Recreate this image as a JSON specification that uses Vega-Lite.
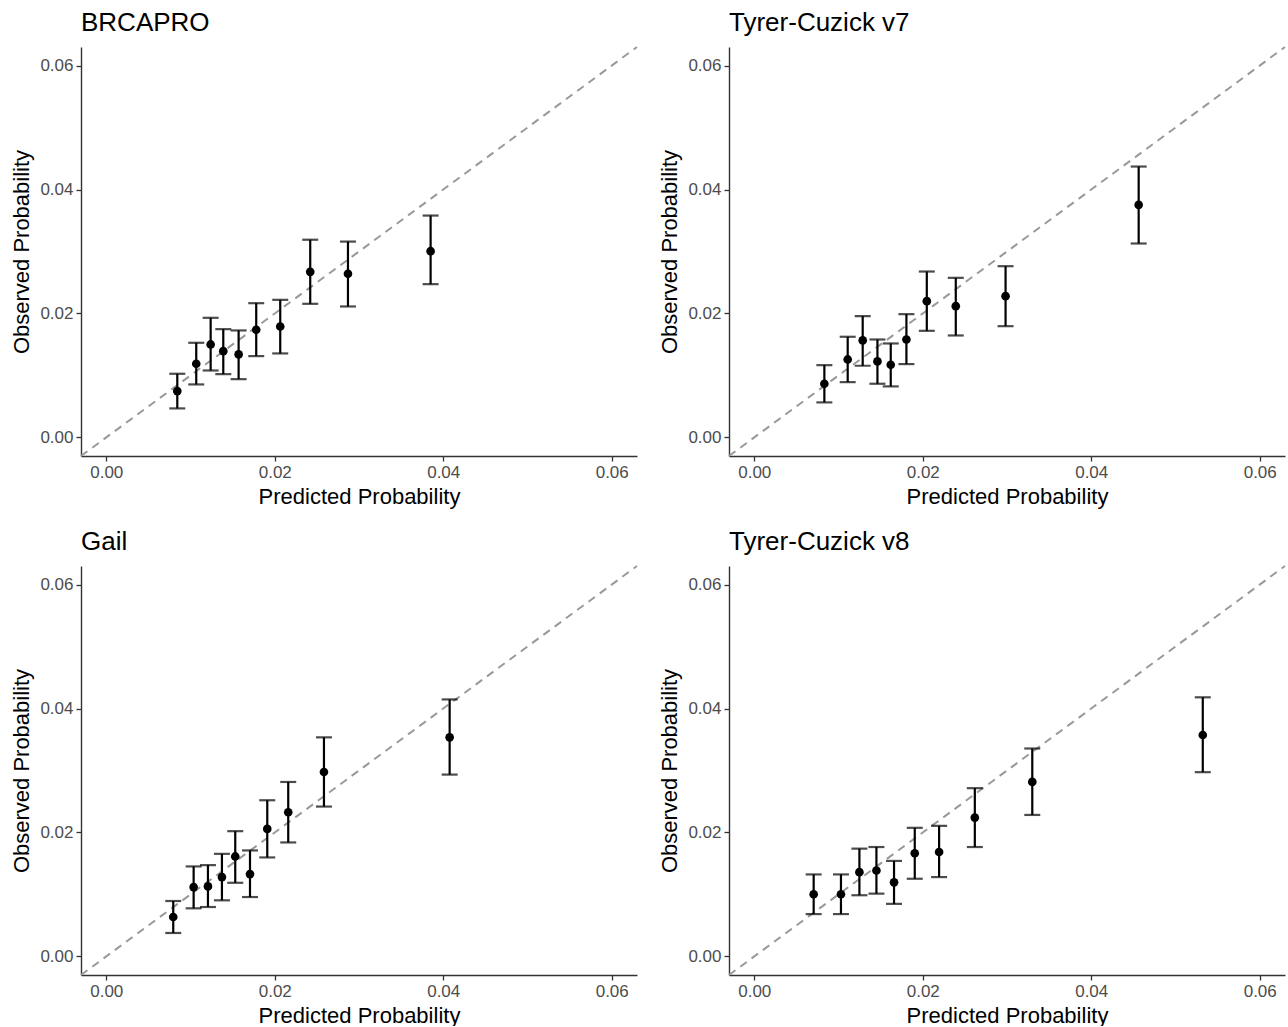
{
  "$schema": "https://vega.github.io/schema/vega-lite/v6.json",
  "background": "white",
  "padding": {"left": 10, "top": 10, "right": 0, "bottom": 0},
  "data": {"values": [
    {"model": "BRCAPRO", "kind": "diag", "pred": -0.003, "obs": -0.003, "pred2": 0.063, "obs2": 0.063},
    {"model": "Tyrer-Cuzick v7", "kind": "diag", "pred": -0.003, "obs": -0.003, "pred2": 0.063, "obs2": 0.063},
    {"model": "Gail", "kind": "diag", "pred": -0.003, "obs": -0.003, "pred2": 0.063, "obs2": 0.063},
    {"model": "Tyrer-Cuzick v8", "kind": "diag", "pred": -0.003, "obs": -0.003, "pred2": 0.063, "obs2": 0.063},

    {"model": "BRCAPRO", "kind": "pt", "pred": 0.00843, "obs": 0.00747, "lo": 0.00468, "hi": 0.01027},
    {"model": "BRCAPRO", "kind": "pt", "pred": 0.01068, "obs": 0.01188, "lo": 0.00855, "hi": 0.01527},
    {"model": "BRCAPRO", "kind": "pt", "pred": 0.01239, "obs": 0.0150, "lo": 0.0108, "hi": 0.0193},
    {"model": "BRCAPRO", "kind": "pt", "pred": 0.01389, "obs": 0.01392, "lo": 0.01021, "hi": 0.01747},
    {"model": "BRCAPRO", "kind": "pt", "pred": 0.01571, "obs": 0.01339, "lo": 0.0094, "hi": 0.01726},
    {"model": "BRCAPRO", "kind": "pt", "pred": 0.0178, "obs": 0.01737, "lo": 0.01312, "hi": 0.02166},
    {"model": "BRCAPRO", "kind": "pt", "pred": 0.02065, "obs": 0.0179, "lo": 0.01355, "hi": 0.0222},
    {"model": "BRCAPRO", "kind": "pt", "pred": 0.02421, "obs": 0.02672, "lo": 0.02156, "hi": 0.0319},
    {"model": "BRCAPRO", "kind": "pt", "pred": 0.02869, "obs": 0.0264, "lo": 0.02113, "hi": 0.0316},
    {"model": "BRCAPRO", "kind": "pt", "pred": 0.0385, "obs": 0.03005, "lo": 0.02473, "hi": 0.0358},

    {"model": "Tyrer-Cuzick v7", "kind": "pt", "pred": 0.00832, "obs": 0.00866, "lo": 0.00565, "hi": 0.01166},
    {"model": "Tyrer-Cuzick v7", "kind": "pt", "pred": 0.01109, "obs": 0.01258, "lo": 0.00892, "hi": 0.01624},
    {"model": "Tyrer-Cuzick v7", "kind": "pt", "pred": 0.01287, "obs": 0.01565, "lo": 0.01156, "hi": 0.01957},
    {"model": "Tyrer-Cuzick v7", "kind": "pt", "pred": 0.01462, "obs": 0.01226, "lo": 0.00866, "hi": 0.0158},
    {"model": "Tyrer-Cuzick v7", "kind": "pt", "pred": 0.0162, "obs": 0.01172, "lo": 0.00823, "hi": 0.01516},
    {"model": "Tyrer-Cuzick v7", "kind": "pt", "pred": 0.01806, "obs": 0.0158, "lo": 0.01183, "hi": 0.01989},
    {"model": "Tyrer-Cuzick v7", "kind": "pt", "pred": 0.02048, "obs": 0.02199, "lo": 0.0172, "hi": 0.02677},
    {"model": "Tyrer-Cuzick v7", "kind": "pt", "pred": 0.02392, "obs": 0.02118, "lo": 0.01645, "hi": 0.02575},
    {"model": "Tyrer-Cuzick v7", "kind": "pt", "pred": 0.02983, "obs": 0.02279, "lo": 0.01795, "hi": 0.02763},
    {"model": "Tyrer-Cuzick v7", "kind": "pt", "pred": 0.04563, "obs": 0.03753, "lo": 0.03129, "hi": 0.04371},

    {"model": "Gail", "kind": "pt", "pred": 0.00795, "obs": 0.00636, "lo": 0.00378, "hi": 0.00894},
    {"model": "Gail", "kind": "pt", "pred": 0.01037, "obs": 0.01119, "lo": 0.00776, "hi": 0.01452},
    {"model": "Gail", "kind": "pt", "pred": 0.01207, "obs": 0.0113, "lo": 0.00797, "hi": 0.01473},
    {"model": "Gail", "kind": "pt", "pred": 0.01373, "obs": 0.0128, "lo": 0.00905, "hi": 0.01655},
    {"model": "Gail", "kind": "pt", "pred": 0.01531, "obs": 0.01613, "lo": 0.01188, "hi": 0.02021},
    {"model": "Gail", "kind": "pt", "pred": 0.01706, "obs": 0.01328, "lo": 0.00958, "hi": 0.0171},
    {"model": "Gail", "kind": "pt", "pred": 0.01911, "obs": 0.02058, "lo": 0.01597, "hi": 0.0252},
    {"model": "Gail", "kind": "pt", "pred": 0.0216, "obs": 0.02327, "lo": 0.01839, "hi": 0.02815},
    {"model": "Gail", "kind": "pt", "pred": 0.02584, "obs": 0.02976, "lo": 0.02418, "hi": 0.03535},
    {"model": "Gail", "kind": "pt", "pred": 0.04076, "obs": 0.03535, "lo": 0.02934, "hi": 0.04147},

    {"model": "Tyrer-Cuzick v8", "kind": "pt", "pred": 0.00705, "obs": 0.01003, "lo": 0.00683, "hi": 0.01323},
    {"model": "Tyrer-Cuzick v8", "kind": "pt", "pred": 0.01029, "obs": 0.01003, "lo": 0.00683, "hi": 0.01323},
    {"model": "Tyrer-Cuzick v8", "kind": "pt", "pred": 0.01248, "obs": 0.0136, "lo": 0.00987, "hi": 0.01739},
    {"model": "Tyrer-Cuzick v8", "kind": "pt", "pred": 0.0145, "obs": 0.01387, "lo": 0.01013, "hi": 0.01765},
    {"model": "Tyrer-Cuzick v8", "kind": "pt", "pred": 0.01659, "obs": 0.01195, "lo": 0.00848, "hi": 0.01541},
    {"model": "Tyrer-Cuzick v8", "kind": "pt", "pred": 0.01905, "obs": 0.01664, "lo": 0.01253, "hi": 0.02075},
    {"model": "Tyrer-Cuzick v8", "kind": "pt", "pred": 0.02194, "obs": 0.01685, "lo": 0.0128, "hi": 0.02107},
    {"model": "Tyrer-Cuzick v8", "kind": "pt", "pred": 0.02618, "obs": 0.0224, "lo": 0.01765, "hi": 0.02715},
    {"model": "Tyrer-Cuzick v8", "kind": "pt", "pred": 0.033, "obs": 0.02816, "lo": 0.02283, "hi": 0.03355},
    {"model": "Tyrer-Cuzick v8", "kind": "pt", "pred": 0.05324, "obs": 0.03573, "lo": 0.02973, "hi": 0.04181}
  ]},
  "facet": {
    "field": "model", "type": "nominal",
    "sort": ["BRCAPRO", "Tyrer-Cuzick v7", "Gail", "Tyrer-Cuzick v8"],
    "header": {"title": null, "labelFontSize": 26, "labelFont": "Liberation Sans", "labelColor": "black", "labelAnchor": "start", "labelPadding": 10}
  },
  "columns": 2,
  "spacing": {"column": 20, "row": 22},
  "resolve": {"axis": {"x": "independent", "y": "independent"}},
  "spec": {
    "width": 556,
    "height": 409,
    "layer": [
      {
        "transform": [{"filter": "datum.kind === 'diag'"}],
        "mark": {"type": "rule", "color": "#999999", "strokeWidth": 2, "strokeDash": [8, 6]},
        "encoding": {
          "x": {"field": "pred", "type": "quantitative", "title": "Predicted Probability", "scale": {"domain": [-0.003, 0.063], "nice": false, "zero": false}, "axis": {"values": [0, 0.02, 0.04, 0.06], "format": ".2f"}},
          "y": {"field": "obs", "type": "quantitative", "title": "Observed Probability", "scale": {"domain": [-0.003, 0.063], "nice": false, "zero": false}, "axis": {"values": [0, 0.02, 0.04, 0.06], "format": ".2f"}},
          "x2": {"field": "pred2"},
          "y2": {"field": "obs2"}
        }
      },
      {
        "transform": [{"filter": "datum.kind === 'pt'"}],
        "mark": {"type": "errorbar", "color": "black", "thickness": 2.2, "ticks": {"size": 16, "thickness": 2.2, "color": "black"}},
        "encoding": {
          "x": {"field": "pred", "type": "quantitative", "title": "Predicted Probability", "scale": {"domain": [-0.003, 0.063], "nice": false, "zero": false}},
          "y": {"field": "lo", "type": "quantitative", "title": "Observed Probability", "scale": {"domain": [-0.003, 0.063], "nice": false, "zero": false}},
          "y2": {"field": "hi"}
        }
      },
      {
        "transform": [{"filter": "datum.kind === 'pt'"}],
        "mark": {"type": "point", "filled": true, "color": "black", "opacity": 1, "size": 75},
        "encoding": {
          "x": {"field": "pred", "type": "quantitative", "title": "Predicted Probability", "scale": {"domain": [-0.003, 0.063], "nice": false, "zero": false}},
          "y": {"field": "obs", "type": "quantitative", "title": "Observed Probability", "scale": {"domain": [-0.003, 0.063], "nice": false, "zero": false}}
        }
      }
    ]
  },
  "config": {
    "font": "Liberation Sans",
    "view": {"stroke": null},
    "axis": {
      "grid": false,
      "domainColor": "#333333",
      "domainWidth": 1.4,
      "tickColor": "#333333",
      "tickWidth": 1.3,
      "tickSize": 5,
      "labelPadding": 3,
      "labelFont": "Liberation Sans",
      "labelFontSize": 17,
      "labelColor": "#4d4d4d",
      "titleFont": "Liberation Sans",
      "titleFontSize": 22,
      "titleFontWeight": "normal",
      "titleColor": "black",
      "titlePadding": 6
    }
  }
}
